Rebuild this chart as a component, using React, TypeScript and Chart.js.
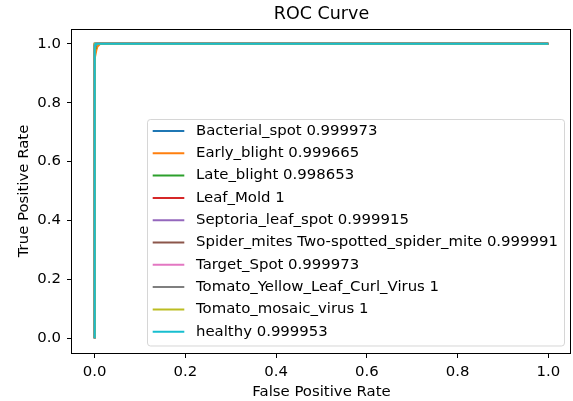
import React, { useEffect, useRef } from "react";
import { Chart, registerables } from "chart.js";

Chart.register(...registerables);

const chartTitle = "ROC Curve";
const xAxisTitle = "False Positive Rate";
const yAxisTitle = "True Positive Rate";
const xTickValues = [0, 0.2, 0.4, 0.6, 0.8, 1.0];
const yTickValues = [0, 0.2, 0.4, 0.6, 0.8, 1.0];

const classNames = [
  "Bacterial_spot",
  "Early_blight",
  "Late_blight",
  "Leaf_Mold",
  "Septoria_leaf_spot",
  "Spider_mites Two-spotted_spider_mite",
  "Target_Spot",
  "Tomato_Yellow_Leaf_Curl_Virus",
  "Tomato_mosaic_virus",
  "healthy",
];
const aucValues = ["0.999973", "0.999665", "0.998653", "1", "0.999915", "0.999991", "0.999973", "1", "1", "0.999953"];
const colors = ["#1f77b4", "#ff7f0e", "#2ca02c", "#d62728", "#9467bd", "#8c564b", "#e377c2", "#7f7f7f", "#bcbd22", "#17becf"];

const fprBacterial = [0, 0, 0, 0.001, 0.002, 1];
const tprBacterial = [0, 0.98, 0.995, 0.998, 1, 1];
const fprEarly = [0, 0, 0.002, 0.004, 0.006, 0.009, 0.012, 1];
const tprEarly = [0, 0.95, 0.965, 0.98, 0.99, 0.995, 1, 1];
const fprLate = [0, 0, 0.001, 0.002, 0.004, 0.006, 1];
const tprLate = [0, 0.975, 0.985, 0.99, 0.996, 1, 1];
const fprLeafMold = [0, 0, 1];
const tprLeafMold = [0, 1, 1];
const fprSeptoria = [0, 0, 0.002, 0.004, 1];
const tprSeptoria = [0, 0.985, 0.993, 1, 1];
const fprSpider = [0, 0, 0.001, 1];
const tprSpider = [0, 0.997, 1, 1];
const fprTarget = [0, 0, 0.002, 1];
const tprTarget = [0, 0.99, 1, 1];
const fprTylcv = [0, 0, 1];
const tprTylcv = [0, 1, 1];
const fprMosaic = [0, 0, 1];
const tprMosaic = [0, 1, 1];
const fprHealthy = [0, 0, 0.001, 0.002, 1];
const tprHealthy = [0, 0.99, 0.996, 1, 1];

const fprs = [fprBacterial, fprEarly, fprLate, fprLeafMold, fprSeptoria, fprSpider, fprTarget, fprTylcv, fprMosaic, fprHealthy];
const tprs = [tprBacterial, tprEarly, tprLate, tprLeafMold, tprSeptoria, tprSpider, tprTarget, tprTylcv, tprMosaic, tprHealthy];

const FONT = "'DejaVu Sans', 'Liberation Sans', sans-serif";
const BASE_SIZE = 14.9;

const decorPlugin = {
  id: "decor",
  afterDatasetsDraw(chart: any) {
    const { ctx, chartArea } = chart;
    const { left, right, top, bottom } = chartArea;
    ctx.save();
    // spines
    ctx.strokeStyle = "#000000";
    ctx.lineWidth = 1;
    ctx.strokeRect(left - 0.5, top + 0.5, right - left, bottom - top);
    // title
    ctx.fillStyle = "#000000";
    ctx.font = `17.5px ${FONT}`;
    ctx.textAlign = "center";
    ctx.textBaseline = "middle";
    ctx.fillText(chartTitle, (left + right) / 2, 14.5);

    // legend
    const bx = 147.5, by = 119.5, bw = 417, bh = 226.5, r = 3;
    ctx.beginPath();
    ctx.moveTo(bx + r, by);
    ctx.lineTo(bx + bw - r, by);
    ctx.arcTo(bx + bw, by, bx + bw, by + r, r);
    ctx.lineTo(bx + bw, by + bh - r);
    ctx.arcTo(bx + bw, by + bh, bx + bw - r, by + bh, r);
    ctx.lineTo(bx + r, by + bh);
    ctx.arcTo(bx, by + bh, bx, by + bh - r, r);
    ctx.lineTo(bx, by + r);
    ctx.arcTo(bx, by, bx + r, by, r);
    ctx.closePath();
    ctx.fillStyle = "rgba(255,255,255,0.8)";
    ctx.fill();
    ctx.strokeStyle = "rgba(204,204,204,0.8)";
    ctx.lineWidth = 1;
    ctx.stroke();

    ctx.font = `${BASE_SIZE}px ${FONT}`;
    ctx.textAlign = "left";
    ctx.textBaseline = "middle";
    chart.data.datasets.forEach((ds: any, i: number) => {
      const cy = 131 + i * 22.3;
      ctx.strokeStyle = ds.borderColor;
      ctx.lineWidth = 2;
      ctx.beginPath();
      ctx.moveTo(152.7, cy);
      ctx.lineTo(184.3, cy);
      ctx.stroke();
      ctx.fillStyle = "#000000";
      ctx.fillText(ds.label, 196, cy);
    });
    ctx.restore();
  },
};

export default function App() {
  const canvasRef = useRef<HTMLCanvasElement | null>(null);

  useEffect(() => {
    document.body.style.margin = "0";
    const canvas = canvasRef.current;
    if (!canvas) return;
    const n = classNames.length;
    const datasets = classNames.map((name, i) => ({
      label: `${name} ${aucValues[i]}`,
      data: fprs[i].map((x, j) => ({ x, y: tprs[i][j] })),
      borderColor: colors[i],
      backgroundColor: colors[i],
      borderWidth: 2,
      pointRadius: 0,
      tension: 0,
      fill: false,
      order: n - i,
    }));
    const tickFont = { family: FONT, size: BASE_SIZE };
    const chart = new Chart(canvas, {
      type: "line",
      data: { datasets },
      options: {
        animation: false,
        responsive: false,
        devicePixelRatio: 1,
        layout: { padding: { top: 29, right: 2, left: 0, bottom: 0 } },
        plugins: {
          legend: { display: false },
          title: { display: false },
          tooltip: { enabled: false },
        },
        scales: {
          x: {
            type: "linear",
            min: -0.05,
            max: 1.05,
            grid: { display: true, drawOnChartArea: false, drawTicks: true, tickLength: 5, color: "#000000" },
            border: { display: false },
            ticks: {
              font: tickFont,
              color: "#000000",
              padding: 5,
              maxRotation: 0,
              callback: (v: any) => Number(v).toFixed(1),
            },
            afterBuildTicks: (scale: any) => {
              scale.ticks = xTickValues.map((v) => ({ value: v }));
            },
            afterFit: (scale: any) => {
              scale.height = 48;
            },
            title: { display: true, text: xAxisTitle, font: tickFont, color: "#000000", padding: { top: 0, bottom: 0 } },
          },
          y: {
            type: "linear",
            min: -0.05,
            max: 1.05,
            grid: { display: true, drawOnChartArea: false, drawTicks: true, tickLength: 5, color: "#000000" },
            border: { display: false },
            ticks: {
              font: tickFont,
              color: "#000000",
              padding: 6,
              callback: (v: any) => Number(v).toFixed(1),
            },
            afterBuildTicks: (scale: any) => {
              scale.ticks = yTickValues.map((v) => ({ value: v }));
            },
            afterFit: (scale: any) => {
              scale.width = 72;
            },
            title: { display: true, text: yAxisTitle, font: tickFont, color: "#000000", padding: { top: 15, bottom: 0 } },
          },
        },
      },
      plugins: [decorPlugin],
    });
    return () => chart.destroy();
  }, []);

  return (
    <div style={{ position: "fixed", left: 0, top: 0, width: 573, height: 401, background: "#ffffff" }}>
      <canvas ref={canvasRef} width={573} height={401} />
    </div>
  );
}
